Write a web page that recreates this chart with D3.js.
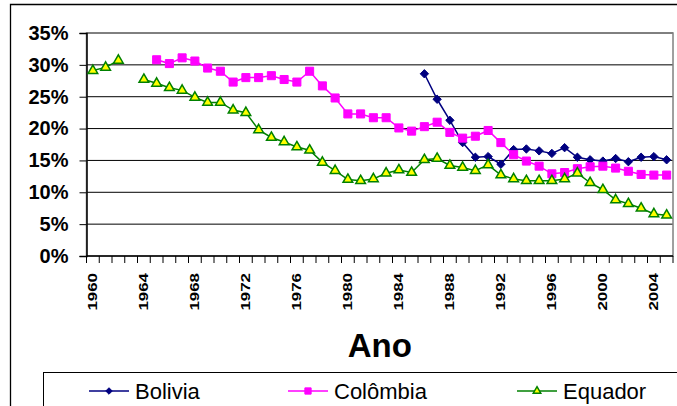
<!DOCTYPE html>
<html>
<head>
<meta charset="utf-8">
<script src="https://cdn.jsdelivr.net/npm/d3@7"></script>
<style>
  body { margin: 0; background: #fff; }
  svg { display: block; font-family: "Liberation Sans", Arial, sans-serif; }
</style>
</head>
<body>
<div id="graph"></div>
<script>
// Years on the category axis
const years = d3.range(1960, 2006);
const yTicks = [0, 0.05, 0.10, 0.15, 0.20, 0.25, 0.30, 0.35];
const labelYears = [1960, 1964, 1968, 1972, 1976, 1980, 1984, 1988, 1992, 1996, 2000, 2004];

// Series values in % (null = no data)
const bolivia = [
  null, null, null, null, null, null, null, null, null, null,
  null, null, null, null, null, null, null, null, null, null,
  null, null, null, null, null, null, 28.6, 24.6, 21.3, 17.8,
  15.5, 15.6, 14.4, 16.7, 16.8, 16.5, 16.1, 17.0, 15.5, 15.1,
  14.9, 15.3, 14.8, 15.5, 15.6, 15.1
];
const colombia = [
  null, null, null, null, null, 30.8, 30.2, 31.1, 30.6, 29.5,
  29.0, 27.3, 28.0, 28.0, 28.3, 27.7, 27.3, 29.0, 26.7, 24.8,
  22.3, 22.3, 21.7, 21.7, 20.1, 19.6, 20.3, 21.0, 19.4, 18.5,
  18.8, 19.7, 17.8, 15.9, 14.9, 14.1, 12.9, 13.1, 13.7, 14.0,
  14.1, 13.8, 13.3, 12.8, 12.7, 12.7
];
const equador = [
  29.1, 29.6, 30.7, null, 27.7, 27.1, 26.4, 26.0, 24.9, 24.1,
  24.1, 22.9, 22.5, 19.8, 18.6, 17.9, 17.1, 16.6, 14.7, 13.4,
  12.0, 11.8, 12.1, 13.0, 13.5, 13.1, 15.1, 15.3, 14.2, 13.9,
  13.4, 14.3, 12.7, 12.1, 11.8, 11.8, 11.8, 12.1, 13.0, 11.5,
  10.4, 8.8, 8.2, 7.5, 6.6, 6.4
];

const width = 677;
const height = 406;
const plot = { left: 86.5, right: 673, top: 33, bottom: 256 };

const svg = d3.select('#graph')
    .append('svg')
    .attr('width', width)
    .attr('height', height);

// Chart area border (only top and left visible)
svg.append('path')
    .attr('d', 'M10.5,' + height + 'V4.5H' + width)
    .attr('fill', 'none')
    .attr('stroke', '#000')
    .attr('stroke-width', 1.3);

const x = d3.scaleBand()
    .domain(years)
    .range([plot.left, plot.right])
    .padding(0);
const y = d3.scaleLinear()
    .domain([0, 0.35])
    .range([plot.bottom, plot.top]);
const cx = d => x(d) + x.bandwidth() / 2;

// Gridlines
svg.append('g')
  .selectAll('line')
  .data(yTicks.slice(1))
  .enter()
  .append('line')
    .attr('x1', plot.left)
    .attr('x2', plot.right)
    .attr('y1', d => y(d))
    .attr('y2', d => y(d))
    .attr('stroke', '#000')
    .attr('stroke-width', 1);

// Plot area border
svg.append('rect')
    .attr('x', plot.left)
    .attr('y', plot.top)
    .attr('width', plot.right - plot.left)
    .attr('height', plot.bottom - plot.top)
    .attr('fill', 'none')
    .attr('stroke', '#808080')
    .attr('stroke-width', 1.5);

// Y axis
const yAxis = svg.append('g')
    .attr('transform', 'translate(' + plot.left + ',0)')
    .call(d3.axisLeft(y).tickValues(yTicks).tickFormat(d3.format('.0%')).tickSize(7).tickPadding(11));
yAxis.select('.domain').attr('stroke', '#000').attr('stroke-width', 1.5);
yAxis.selectAll('.tick line').attr('stroke', '#000');
yAxis.selectAll('text')
    .attr('font-size', 20)
    .attr('font-weight', 'bold')
    .attr('font-family', '"Liberation Sans", Arial, sans-serif')
    .attr('fill', '#000');

// X axis line and tick marks at category boundaries
svg.append('line')
    .attr('x1', plot.left)
    .attr('x2', plot.right)
    .attr('y1', plot.bottom)
    .attr('y2', plot.bottom)
    .attr('stroke', '#000')
    .attr('stroke-width', 1.5);
svg.append('g')
  .selectAll('line')
  .data(years.concat([2006]))
  .enter()
  .append('line')
    .attr('x1', d => d === 2006 ? plot.right : x(d))
    .attr('x2', d => d === 2006 ? plot.right : x(d))
    .attr('y1', plot.bottom)
    .attr('y2', plot.bottom + 7)
    .attr('stroke', '#000');

// X tick labels (rotated, stretched along the text like the original)
const xAxis = svg.append('g')
    .attr('transform', 'translate(0,' + plot.bottom + ')')
    .call(d3.axisBottom(x).tickValues(labelYears).tickSize(0).tickFormat(d3.format('d')));
xAxis.select('.domain').remove();
xAxis.selectAll('text')
    .attr('font-size', 13)
    .attr('font-weight', 'bold')
    .attr('font-family', '"Liberation Sans", Arial, sans-serif')
    .attr('fill', '#000')
    .attr('text-anchor', 'end')
    .attr('dy', '0.35em')
    .attr('y', 0)
    .attr('transform', 'translate(0,17) rotate(-90) scale(1.3,1)');

// Axis title
svg.append('text')
    .attr('x', (plot.left + plot.right) / 2)
    .attr('y', 357)
    .attr('text-anchor', 'middle')
    .attr('font-size', 33)
    .attr('font-weight', 'bold')
    .text('Ano');

// Series
const series = [
  { name: 'Bolivia', values: bolivia, color: '#000080', marker: 'diamond' },
  { name: 'Colômbia', values: colombia, color: '#FF00FF', marker: 'square' },
  { name: 'Equador', values: equador, color: '#008000', marker: 'triangle' }
];

const line = d3.line()
    .defined(d => d.v !== null)
    .x(d => cx(d.year))
    .y(d => y(d.v / 100));

function drawMarker(g, type, color, size) {
  if (type === 'diamond') {
    g.append('path')
        .attr('d', d3.symbol().type(d3.symbolDiamond2).size(size * size * 0.55)())
        .attr('fill', color)
        .attr('stroke', color);
  } else if (type === 'square') {
    g.append('path')
        .attr('d', d3.symbol().type(d3.symbolSquare).size(size * size * 0.8)())
        .attr('fill', color)
        .attr('stroke', color);
  } else {
    g.append('path')
        .attr('d', d3.symbol().type(d3.symbolTriangle).size(size * size * 0.5)())
        .attr('fill', '#FFFF00')
        .attr('stroke', color)
        .attr('stroke-width', 1.5);
  }
}

series.forEach(function(s) {
  const pts = years.map((yr, i) => ({ year: yr, v: s.values[i] }));
  svg.append('path')
      .datum(pts)
      .attr('d', line)
      .attr('fill', 'none')
      .attr('stroke', s.color)
      .attr('stroke-width', 1.5);
  pts.filter(d => d.v !== null).forEach(function(d) {
    const g = svg.append('g')
        .attr('transform', 'translate(' + cx(d.year) + ',' + y(d.v / 100) + ')');
    drawMarker(g, s.marker, s.color, 9);
  });
});

// Legend
svg.append('rect')
    .attr('x', 43.5)
    .attr('y', 372.5)
    .attr('width', 700)
    .attr('height', 60)
    .attr('fill', '#fff')
    .attr('stroke', '#000')
    .attr('stroke-width', 1);

const legendX = [89, 288, 517];
series.forEach(function(s, i) {
  const lx = legendX[i];
  const ly = 391;
  svg.append('line')
      .attr('x1', lx)
      .attr('x2', lx + 40)
      .attr('y1', ly)
      .attr('y2', ly)
      .attr('stroke', s.color)
      .attr('stroke-width', 1.5);
  const g = svg.append('g').attr('transform', 'translate(' + (lx + 20) + ',' + ly + ')');
  drawMarker(g, s.marker, s.color, 7);
  svg.append('text')
      .attr('x', lx + 46)
      .attr('y', 399)
      .attr('font-size', 22)
      .text(s.name);
});
</script>
</body>
</html>
